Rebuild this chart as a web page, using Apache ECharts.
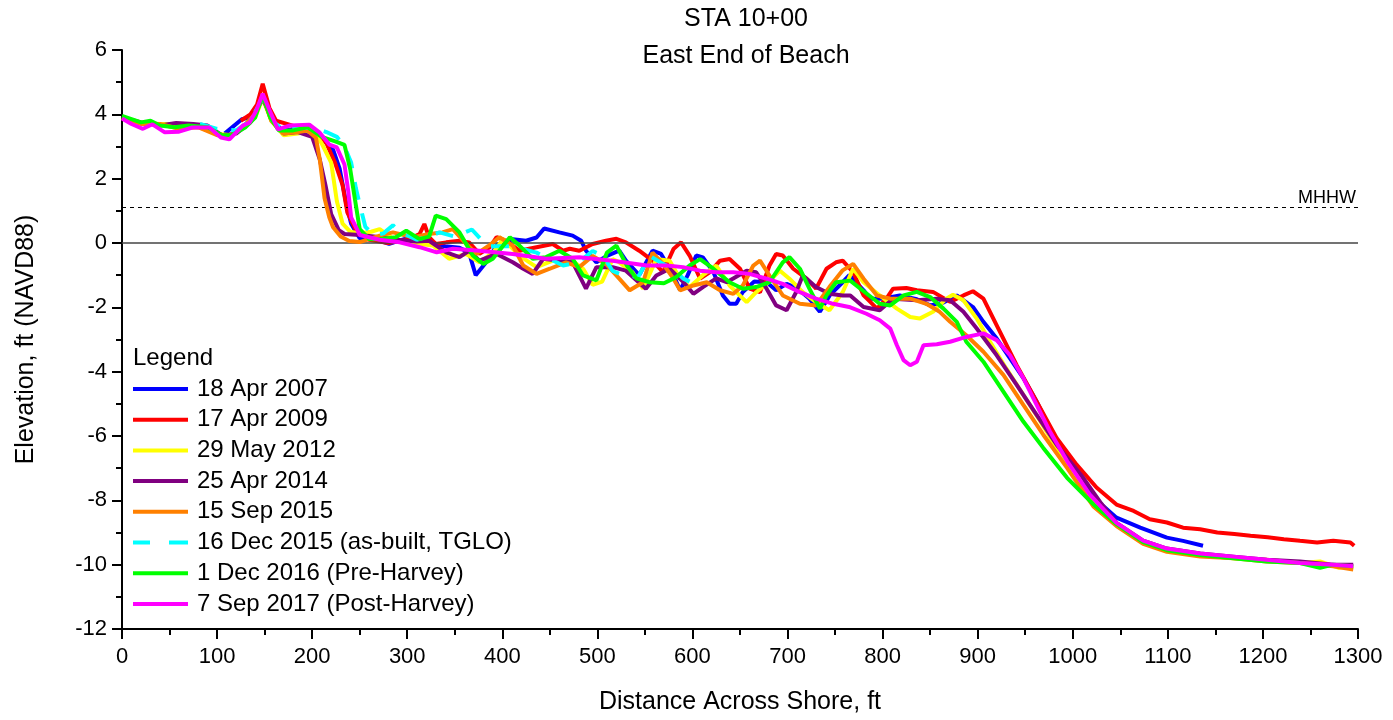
<!DOCTYPE html>
<html>
<head>
<meta charset="utf-8">
<script src="https://cdn.jsdelivr.net/npm/echarts@6/dist/echarts.min.js"></script>
<style>
html,body{margin:0;padding:0;background:#fff;}
#chart{width:1393px;height:720px;}
</style>
</head>
<body>
<div id="chart"></div>
<script>
// ---- Data (distance ft, elevation ft NAVD88) ----
const seriesNames = ["18 Apr 2007","17 Apr 2009","29 May 2012","25 Apr 2014","15 Sep 2015","16 Dec 2015 (as-built, TGLO)","1 Dec 2016 (Pre-Harvey)","7 Sep 2017 (Post-Harvey)"];
const seriesColors = ["#0000FF","#FF0000","#FFFF00","#800080","#FF8000","#00FFFF","#00FF00","#FF00FF"];

const apr2007 = [[108,3.4],[126,3.85],[135,3.9],[142,4.2],[148,4.6],[156,3.9],[168,3.5],[185,3.55],[200,3.5],[212,3.2],[222,2.9],[229,2.3],[236,1.2],[241,0.6],[250,0.15],[260,0.12],[271,0.07],[281,-0.03],[300,0.15],[320,0.0],[340,-0.1],[355,-0.15],[365,-0.3],[372,-1.0],[383,-0.6],[394,-0.08],[411,0.12],[425,0.07],[436,0.17],[444,0.45],[460,0.33],[474,0.23],[483,0.07],[488,-0.24],[499,-0.6],[510,-0.4],[523,-0.24],[530,-0.55],[544,-1.0],[558,-0.24],[567,-0.34],[580,-1.0],[587,-1.47],[595,-1.0],[604,-0.39],[611,-0.45],[622,-0.9],[632,-1.63],[639,-1.89],[646,-1.89],[653,-1.52],[665,-1.2],[678,-1.22],[688,-1.47],[699,-1.27],[710,-1.4],[723,-1.73],[734,-2.14],[745,-1.6],[758,-1.22],[765,-1.0],[780,-1.47],[787,-1.73],[800,-1.73],[818,-1.63],[836,-1.75],[850,-1.94],[864,-1.85],[878,-1.63],[895,-1.99],[906,-2.45],[920,-2.97],[934,-3.59],[948,-4.2],[962,-4.93],[976,-5.75],[994,-6.68],[1011,-7.4],[1029,-8.1],[1046,-8.54],[1071,-8.85],[1099,-9.16],[1116,-9.26],[1137,-9.41]];

const apr2009 = [[125,3.8],[135,4.0],[142,4.3],[148,4.95],[155,4.2],[162,3.8],[176,3.68],[195,3.5],[205,3.4],[215,3.1],[224,2.5],[232,1.8],[237,0.95],[246,0.4],[260,0.1],[280,0.0],[300,0.1],[313,0.28],[318,0.59],[323,0.18],[330,-0.03],[341,0.02],[355,0.07],[365,0.02],[376,-0.34],[387,-0.13],[394,0.18],[404,0.07],[418,-0.24],[436,-0.13],[453,-0.03],[464,-0.24],[471,-0.18],[481,-0.24],[495,-0.03],[509,0.07],[520,0.13],[530,0.02],[544,-0.24],[558,-0.55],[569,-0.91],[580,-0.19],[588,0.02],[597,-0.39],[608,-1.11],[618,-0.91],[629,-0.55],[639,-0.5],[650,-0.8],[660,-1.42],[671,-1.53],[681,-0.7],[688,-0.34],[695,-0.39],[706,-0.8],[720,-1.11],[730,-1.42],[741,-0.8],[751,-0.6],[758,-0.55],[769,-0.91],[780,-1.63],[787,-1.83],[794,-2.04],[804,-1.73],[811,-1.42],[825,-1.4],[836,-1.47],[853,-1.52],[871,-1.83],[885,-1.63],[895,-1.5],[906,-1.73],[920,-2.56],[941,-3.8],[962,-4.93],[983,-6.06],[1004,-6.89],[1025,-7.6],[1046,-8.13],[1064,-8.33],[1081,-8.59],[1099,-8.69],[1116,-8.85],[1134,-8.9],[1152,-9.0],[1170,-9.05],[1187,-9.1],[1205,-9.15],[1222,-9.21],[1239,-9.26],[1257,-9.31],[1274,-9.26],[1292,-9.31],[1296,-9.41]];

const may2012 = [[0,3.9],[20,3.75],[40,3.7],[60,3.7],[80,3.6],[100,3.4],[115,3.35],[130,3.65],[140,3.9],[148,4.5],[157,3.8],[170,3.35],[185,3.4],[200,3.5],[210,3.1],[220,2.5],[226,1.3],[232,0.6],[240,0.35],[250,0.3],[262,0.35],[271,0.43],[288,0.07],[305,0.0],[327,-0.08],[344,-0.49],[362,-0.34],[376,-0.6],[390,-0.3],[401,0.12],[418,-0.39],[436,-0.75],[453,-0.55],[471,-0.49],[485,-0.8],[495,-1.3],[505,-1.2],[516,-0.5],[523,-0.6],[537,-0.91],[548,-1.42],[562,-0.5],[576,-0.55],[587,-1.11],[597,-1.37],[611,-1.0],[625,-0.7],[639,-1.32],[657,-1.84],[667,-1.53],[678,-1.27],[692,-0.86],[702,-1.11],[716,-1.53],[730,-1.84],[744,-2.09],[758,-1.53],[769,-0.8],[780,-1.22],[797,-1.63],[815,-2.04],[829,-2.3],[839,-2.35],[853,-2.14],[867,-1.73],[874,-1.61],[885,-1.78],[899,-2.35],[913,-3.07],[930,-3.9],[948,-4.72],[966,-5.55],[983,-6.37],[1004,-7.2],[1022,-8.1],[1046,-8.74],[1074,-9.3],[1099,-9.55],[1134,-9.7],[1169,-9.8],[1204,-9.85],[1239,-9.95],[1260,-9.9],[1280,-10.1],[1295,-10.05]];

const apr2014 = [[0,3.9],[20,3.75],[40,3.65],[57,3.73],[75,3.7],[90,3.65],[105,3.35],[120,3.4],[135,3.75],[148,4.5],[158,3.8],[170,3.4],[185,3.45],[200,3.3],[208,2.6],[214,1.8],[220,0.9],[228,0.4],[234,0.28],[250,0.25],[265,0.2],[290,0.1],[310,0.05],[323,0.07],[341,-0.29],[355,-0.44],[365,-0.24],[376,-0.55],[394,-0.34],[411,-0.6],[422,-0.8],[432,-0.96],[443,-0.49],[460,-0.55],[474,-0.6],[488,-1.42],[499,-0.75],[516,-0.75],[530,-0.86],[551,-1.42],[562,-1.01],[576,-0.8],[590,-1.2],[601,-1.58],[611,-1.37],[625,-1.1],[636,-1.22],[657,-0.86],[667,-0.91],[678,-1.42],[688,-1.94],[699,-2.09],[709,-1.53],[716,-1.01],[730,-1.37],[744,-1.58],[758,-1.63],[766,-1.63],[780,-1.99],[797,-2.09],[811,-1.73],[836,-1.78],[857,-1.73],[871,-1.78],[885,-2.14],[899,-2.66],[920,-3.49],[941,-4.41],[962,-5.34],[983,-6.27],[1011,-7.3],[1030,-8.1],[1046,-8.7],[1074,-9.25],[1099,-9.5],[1134,-9.65],[1169,-9.75],[1204,-9.85],[1239,-9.9],[1274,-10.0],[1295,-10.0]];

const sep2015 = [[0,3.9],[20,3.7],[40,3.7],[60,3.55],[80,3.6],[100,3.35],[115,3.35],[130,3.7],[140,4.0],[148,4.6],[157,3.8],[170,3.4],[185,3.45],[195,3.5],[204,3.27],[208,2.6],[213,1.4],[218,0.8],[222,0.49],[230,0.2],[239,0.06],[250,0.03],[271,0.23],[285,0.33],[306,0.18],[323,0.28],[337,0.33],[348,0.43],[362,-0.03],[373,-0.34],[385,-0.1],[397,0.18],[411,-0.08],[422,-0.7],[436,-0.96],[450,-0.8],[467,-0.6],[481,-0.75],[495,-0.4],[509,-0.65],[523,-1.11],[534,-1.47],[548,-1.22],[558,-0.3],[569,-0.65],[580,-1.11],[587,-1.47],[601,-1.32],[615,-1.22],[629,-1.47],[643,-1.58],[653,-1.32],[664,-0.7],[671,-0.55],[681,-1.01],[695,-1.63],[713,-1.89],[730,-1.94],[744,-1.37],[758,-0.85],[769,-0.65],[780,-1.11],[794,-1.63],[808,-1.73],[829,-1.73],[846,-1.89],[860,-2.14],[871,-2.45],[888,-2.87],[906,-3.38],[927,-4.1],[948,-5.03],[969,-5.96],[994,-6.99],[1022,-8.2],[1046,-8.8],[1074,-9.35],[1099,-9.6],[1134,-9.75],[1169,-9.8],[1204,-9.9],[1239,-9.95],[1274,-10.05],[1295,-10.15]];

const dec2015 = [[82,3.7],[100,3.55],[120,3.5],[135,3.8],[148,4.5],[158,3.8],[170,3.5],[190,3.6],[205,3.55],[215,3.45],[226,3.3],[234,3.0],[241,2.5],[246,1.7],[250,1.2],[256,0.5],[265,0.25],[275,0.3],[285,0.55],[292,0.35],[310,0.1],[322,0.2],[334,0.33],[350,0.2],[368,0.42],[378,0.1],[387,-0.1],[410,-0.1],[436,-0.3],[450,-0.5],[464,-0.7],[480,-0.6],[495,-0.25],[506,-0.4],[516,-0.87],[527,-1.0],[543,-1.05],[555,-0.4],[569,-0.65],[580,-0.8],[590,-1.1],[597,-1.2]];

const dec2016 = [[0,3.95],[10,3.85],[20,3.75],[30,3.8],[40,3.65],[55,3.6],[70,3.65],[90,3.6],[105,3.35],[115,3.35],[130,3.6],[140,3.9],[148,4.6],[156,3.9],[165,3.5],[180,3.5],[195,3.6],[210,3.3],[225,3.15],[234,3.05],[240,2.3],[245,1.36],[250,0.43],[260,0.12],[271,0.12],[288,0.18],[299,0.38],[313,0.12],[323,0.2],[330,0.85],[341,0.74],[355,0.33],[369,-0.39],[380,-0.65],[390,-0.49],[408,0.18],[418,-0.08],[432,-0.49],[446,-0.44],[460,-0.24],[474,-0.49],[485,-1.01],[499,-1.16],[510,-0.3],[520,-0.08],[531,-0.7],[541,-1.1],[555,-1.22],[570,-1.25],[583,-1.06],[597,-0.7],[608,-0.5],[622,-0.8],[639,-1.22],[653,-1.42],[667,-1.37],[681,-1.22],[695,-0.6],[702,-0.44],[713,-0.8],[723,-1.42],[734,-2.04],[741,-1.63],[751,-1.22],[766,-1.17],[780,-1.5],[797,-1.89],[808,-1.94],[822,-1.63],[836,-1.52],[850,-1.68],[864,-2.04],[878,-2.45],[888,-3.07],[906,-3.69],[927,-4.62],[948,-5.55],[969,-6.37],[994,-7.3],[1022,-8.13],[1046,-8.74],[1074,-9.3],[1099,-9.55],[1134,-9.7],[1169,-9.8],[1204,-9.9],[1239,-9.95],[1260,-10.1],[1274,-10.0],[1295,-10.05]];

const sep2017 = [[0,3.87],[10,3.7],[22,3.55],[32,3.69],[45,3.44],[60,3.46],[74,3.59],[92,3.59],[104,3.28],[113,3.22],[127,3.65],[134,3.74],[141,4.1],[148,4.64],[155,4.14],[164,3.53],[176,3.65],[197,3.68],[208,3.43],[218,3.06],[226,2.97],[234,2.44],[238,1.6],[241,0.8],[250,0.25],[271,0.1],[292,0.02],[313,-0.13],[331,-0.29],[348,-0.18],[376,-0.24],[411,-0.34],[446,-0.49],[481,-0.44],[516,-0.55],[552,-0.7],[573,-0.7],[590,-0.75],[608,-0.86],[625,-0.91],[643,-0.91],[660,-0.96],[678,-1.11],[695,-1.27],[713,-1.53],[730,-1.73],[748,-1.89],[766,-2.0],[783,-2.2],[797,-2.4],[808,-2.66],[815,-3.18],[822,-3.64],[829,-3.8],[836,-3.69],[843,-3.18],[857,-3.15],[871,-3.07],[888,-2.92],[906,-2.81],[920,-3.02],[934,-3.49],[948,-4.2],[962,-5.03],[976,-5.86],[994,-6.78],[1018,-7.82],[1030,-8.2],[1046,-8.7],[1074,-9.25],[1099,-9.5],[1134,-9.65],[1169,-9.75],[1204,-9.85],[1239,-9.95],[1274,-10.0],[1295,-10.05]];

const profiles = [apr2007, apr2009, may2012, apr2014, sep2015, dec2015, dec2016, sep2017];
const MHHW = 1.1;
const xTicks = {min: 0, max: 1300, interval: 100};
const yTicks = {min: -12, max: 6, interval: 2};

const FONT = "'Liberation Sans', Arial, sans-serif";
const chart = echarts.init(document.getElementById('chart'), null, {renderer: 'canvas'});

const SOLID_ICON = 'path://M0,0h55v4h-55z';
const DASH_ICON = 'path://M0,0h17v4h-17z M36,0h19v4h-19z';

const series = profiles.map((d, i) => ({
  name: seriesNames[i],
  type: 'line',
  data: d,
  showSymbol: false,
  symbol: 'none',
  smooth: false,
  animation: false,
  z: 3 + i,
  lineStyle: {
    color: seriesColors[i],
    width: 4,
    type: i === 5 ? [18, 14] : 'solid'
  },
  itemStyle: {color: seriesColors[i]}
}));

series.unshift({
  name: 'ref',
  type: 'line',
  data: [],
  animation: false,
  markLine: {
    silent: true,
    symbol: 'none',
    animation: false,
    data: [
      {yAxis: 0, lineStyle: {color: '#444', width: 1.5, type: 'solid'}, label: {show: false}},
      {yAxis: MHHW, lineStyle: {color: '#000', width: 1, type: [4, 4]},
       label: {show: true, formatter: 'MHHW', position: 'insideEndTop', color: '#000', fontSize: 18, fontFamily: FONT, distance: [2, 1]}}
    ]
  }
});

chart.setOption({
  animation: false,
  backgroundColor: '#fff',
  graphic: [
    {type: 'text', x: 746, y: 19, style: {text: 'STA 10+00', fontSize: 25, fontFamily: FONT, fill: '#000', align: 'center', verticalAlign: 'middle'}},
    {type: 'text', x: 746, y: 56, style: {text: 'East End of Beach', fontSize: 25, fontFamily: FONT, fill: '#000', align: 'center', verticalAlign: 'middle'}},
    {type: 'text', x: 133, y: 358, style: {text: 'Legend', fontSize: 24, fontFamily: FONT, fill: '#000', align: 'left', verticalAlign: 'middle'}}
  ],
  legend: {
    data: seriesNames.map((n, i) => ({name: n, icon: i === 5 ? DASH_ICON : SOLID_ICON})),
    orient: 'vertical',
    left: 133,
    top: 377,
    itemWidth: 55,
    itemHeight: 4,
    itemGap: 6.7,
    padding: 0,
    textStyle: {fontSize: 24, lineHeight: 24, fontFamily: FONT, color: '#000', padding: [0, 0, 0, 4]},
    selectedMode: false
  },
  grid: {left: 122, right: 35, top: 50, bottom: 88, containLabel: false},
  xAxis: {
    type: 'value',
    min: xTicks.min, max: xTicks.max, interval: xTicks.interval,
    name: 'Distance Across Shore, ft',
    nameLocation: 'middle',
    nameGap: 61,
    nameTextStyle: {fontSize: 25, fontFamily: FONT, color: '#000'},
    axisLine: {show: true, onZero: false, lineStyle: {color: '#000', width: 2}},
    axisTick: {show: true, inside: false, length: 10, lineStyle: {color: '#000', width: 2}},
    minorTick: {show: true, splitNumber: 2, length: 6, lineStyle: {color: '#000', width: 2}},
    axisLabel: {fontSize: 22, fontFamily: FONT, color: '#000', margin: 17, formatter: v => String(v)},
    splitLine: {show: false}
  },
  yAxis: {
    type: 'value',
    min: yTicks.min, max: yTicks.max, interval: yTicks.interval,
    name: 'Elevation, ft (NAVD88)',
    nameLocation: 'middle',
    nameGap: 83,
    nameRotate: 90,
    nameTextStyle: {fontSize: 25, fontFamily: FONT, color: '#000'},
    axisLine: {show: true, onZero: false, lineStyle: {color: '#000', width: 2}},
    axisTick: {show: true, inside: false, length: 10, lineStyle: {color: '#000', width: 2}},
    minorTick: {show: true, splitNumber: 2, length: 6, lineStyle: {color: '#000', width: 2}},
    axisLabel: {fontSize: 22, fontFamily: FONT, color: '#000', margin: 15, formatter: v => String(v)},
    splitLine: {show: false}
  },
  series: series
});
</script>
</body>
</html>
